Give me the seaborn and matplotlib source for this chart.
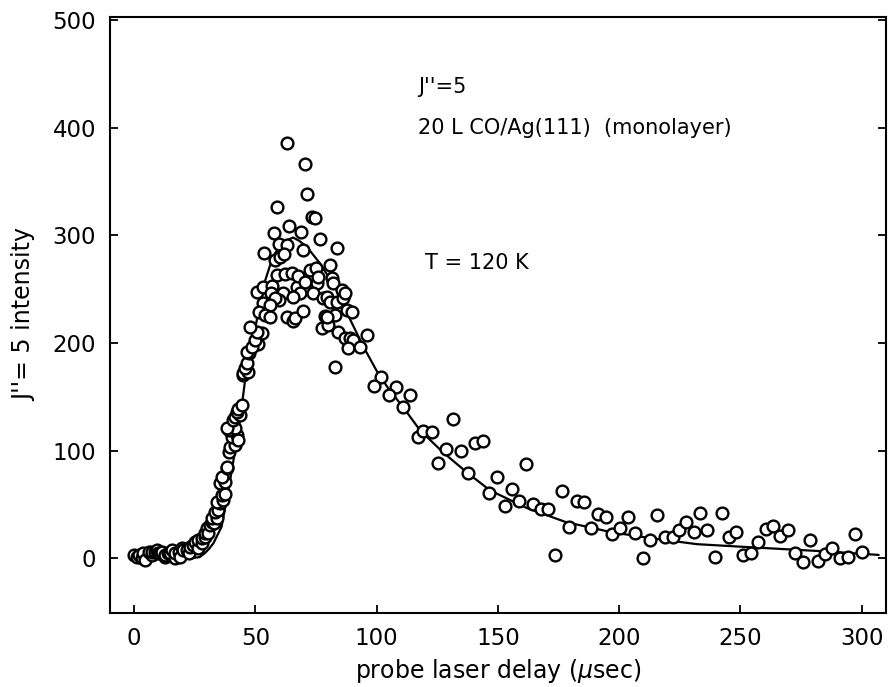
import matplotlib
matplotlib.use("Agg")
import matplotlib.pyplot as plt
import seaborn as sns
import pandas as pd

# measured points (probe delay in usec, intensity)
delay = [0, 1, 1.8, 3.2, 3.8, 4.5, 5.9, 7.3, 7.3, 8.7, 9.3, 10, 10.7, 11.4, 12.8, 12.8, 14.1, 14.8,
         15.5, 16.9, 16.9, 18.3, 19, 19.6, 20.3, 21.7, 22.4, 23, 24.4, 25.1, 26.5, 26.5, 27.9, 27.9,
         29.3, 29.3, 30, 30.6, 31.3, 32, 32.7, 32, 34.1, 33.4, 34.7, 35.4, 34.1, 36.8, 36.1, 37.5,
         35.4, 37.5, 36.1, 38.2, 38.2, 38.9, 39.6, 41.6, 40.3, 42.3, 43, 38.9, 41.6, 38.2, 40.9,
         41.6, 43.7, 42.3, 43, 44.4, 45, 45, 47.1, 45.7, 46.4, 47.5, 46.4, 49.9, 51.2, 48.5, 49.9,
         52.6, 50.5, 47.8,
         53.7, 50.5, 53.3, 56.7, 56.4, 61.5, 67, 68.4, 65.6, 59.5, 58.1, 53.2, 56, 51.6, 54, 56,
         62.9, 65.6, 66.3, 69.5, 78.7, 82.8, 87.6, 89.7,
         63.2, 70.6, 71.3, 58.9, 73.2, 74.6, 57.7, 64, 68.8, 76.6, 59.9, 63.2, 69.8, 83.5, 58.1,
         60.2, 61.9, 80.8, 58.8, 62.2, 65, 67.4, 72.5, 75, 70.5, 75.3, 75.7, 81.4, 82.1, 73.6, 78,
         79.4, 80.8, 83.5, 85.6, 86.2, 86.9,
         77.3, 80, 79.4, 84.2, 86.9, 89, 90.4, 88.3, 93.1, 95.9, 82.8,
         101.6, 98.9, 108, 105, 113.7, 111, 117, 119.2, 122.6, 125.4, 131.6, 128.5, 134.6, 140.5,
         143.7, 137.7, 149.4, 161.4, 146.4, 155.6, 152.9, 158.6, 164.5, 167.6, 170.7, 176.2, 182.4,
         185.4, 173.5, 179.4, 188.2, 191.2, 194.5, 203.5, 197.2, 200.5, 206.6, 209.8, 212.6, 215.6,
         218.8, 222, 224.7, 227.7, 230.7, 233.2, 236.2, 239.3, 242.3, 245.2, 248.3, 251, 254.2,
         257.4, 260.4, 263.4, 266.4, 269.6, 272.6, 275.6, 278.7, 281.8, 285, 287.9, 291, 294.3,
         297.2, 300.2]
intensity = [3, 1, 2.8, 0, 4.4, -2, 5.9, 2.8, 6, 5.9, 7.4, 4.4, 4.4, 5.9, 1.2, 2.8, 4.4, 4.4,
             7.4, -0.3, 4.4, 5.9, 1.2, 9, 7.4, 7.4, 4.4, 10.5, 12.1, 15.2, 9, 16.7, 13.7, 18.3,
             19.8, 23, 27.6, 23, 30.7, 33.8, 32.3, 37, 37, 43, 44.7, 51, 52.4, 54, 58.6, 60,
             69.5, 71, 75.6, 83.4, 85, 98.9, 103.5, 105, 112.8, 114.4, 109.8, 119, 120.6, 120.6, 128.4,
             131.4, 133, 136, 139, 142.3, 170, 171.8, 173.3, 176.4, 181, 190.4, 192, 200, 199, 196.6, 203,
             209, 210.5, 215,
             283.7, 247.7, 252.4, 253, 246, 246, 252, 246, 243, 240, 241.5, 237.5, 235.3, 229, 226, 224.5,
             224.5, 220, 223, 230, 225, 226, 230.7, 229,
             385.7, 366, 338.6, 326, 317.5, 316, 302.6, 308.8, 303, 297, 292, 291.5, 286.5, 288.7, 277,
             280, 283, 272.6, 263, 264, 265, 262, 268, 269.5, 256.5, 255.5, 261.7, 260, 255.5, 246, 241.6,
             243, 238.4, 238.4, 249, 241.6, 246,
             213.7, 216.7, 224.5, 210.5, 204.4, 204.4, 202.8, 195, 196.6, 207.4, 178,
             168, 160, 158.8, 151.6, 151.6, 140.7, 112.8, 118.4, 117.5, 88.7, 129, 101, 99.5, 106.7,
             108.8, 79.4, 75.6, 87.1, 60.8, 64.5, 48.7, 53, 50, 45.6, 45.6, 62, 53,
             51.8, 2.8, 29, 28, 41, 38, 38.4, 22, 27.6, 23.5, 0, 16.7, 40,
             19.8, 19.8, 26, 33.8, 24.5, 41.6, 26, 0.6, 41.6, 19.8, 24.5, 2.8, 4.4,
             14.6, 26.7, 30, 20.5, 26, 4.4, -4, 16.7, -3, 3.7, 9, 0, 0.6,
             22, 5.9]

# fitted curve
fit_delay = [0, 10, 20, 24, 27, 29.3, 31, 32.7, 34, 36, 37.5, 39.5, 41.6, 43.7, 45.7, 48, 50, 52,
             54, 56, 58, 60, 62.5, 65.5, 68, 71.3, 76.6, 83.6, 89, 94.4, 100, 105, 111, 117.8,
             127, 137, 146.7, 162, 178, 197, 213, 232, 255, 283, 307]
fit_intensity = [2, 1.5, 0.5, 0, 1, 5, 9, 14, 20, 29, 47, 72, 100, 130, 165, 192, 215, 238,
                 258, 272, 283, 290, 295, 298, 295, 289, 274, 249, 222, 197, 174, 157, 140, 119,
                 99, 80, 63, 46.5, 33.5, 24, 18.6, 13, 10, 6.5, 3]

x_ticks = [0, 50, 100, 150, 200, 250, 300]
y_ticks = [0, 100, 200, 300, 400, 500]

sns.set_theme(style="ticks")
plt.rcParams['font.family'] = ['DejaVu Sans']
plt.rcParams['text.color'] = 'black'
plt.rcParams['axes.labelcolor'] = 'black'

pts = pd.DataFrame({"delay": delay, "intensity": intensity})
fit = pd.DataFrame({"delay": fit_delay, "intensity": fit_intensity})

fig = plt.figure(figsize=(8.89, 6.87), dpi=100)
ax = fig.add_axes([0.1237, 0.1077, 0.8729, 0.8676])

sns.lineplot(data=fit, x="delay", y="intensity", ax=ax, color="black", linewidth=1.6,
             sort=False, estimator=None, zorder=2)
sns.scatterplot(data=pts, x="delay", y="intensity", ax=ax, marker="o", s=72,
                facecolor="white", edgecolor="black", linewidth=1.7, zorder=3)

ax.set_xlim(-10, 310)
ax.set_ylim(-51, 503)
ax.set_xticks(x_ticks)
ax.set_yticks(y_ticks)
ax.tick_params(axis="both", direction="in", length=6, width=1.3, labelsize=16.5,
               colors="black", right=True, top=False, pad=10)
for s in ax.spines.values():
    s.set_linewidth(1.5)
    s.set_color("black")

ax.set_xlabel("probe laser delay ($\\mu$sec)", fontsize=17, labelpad=5, color="black")
ax.set_ylabel("J''= 5 intensity", fontsize=17, labelpad=12, color="black")

ax.text(117, 438, "J''=5", fontsize=15, ha="left", va="center", color="black")
ax.text(117, 400, "20 L CO/Ag(111)  (monolayer)", fontsize=15, ha="left", va="center", color="black")
ax.text(120, 274, "T = 120 K", fontsize=15, ha="left", va="center", color="black")

fig.savefig("out.png", dpi=100)
